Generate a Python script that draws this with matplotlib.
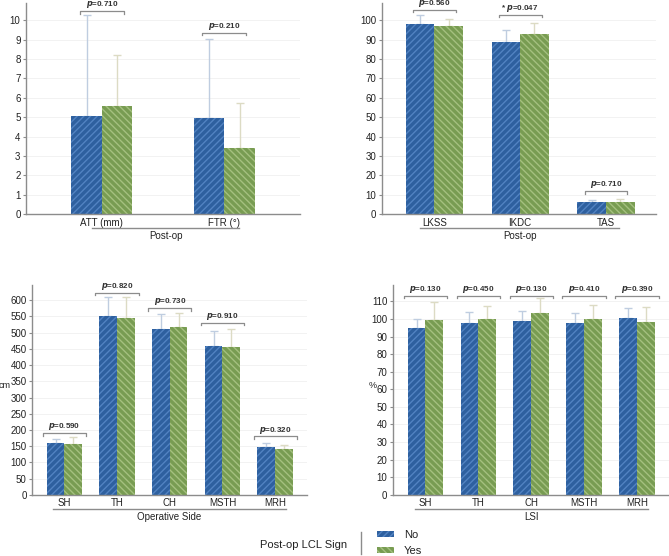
import matplotlib.pyplot as plt
from matplotlib.patches import Rectangle
from matplotlib.lines import Line2D
import numpy as np

plt.rcParams['font.family'] = ['Liberation Sans', 'DejaVu Sans']
plt.rcParams['hatch.linewidth'] = 1.0

# данные: средние и верхняя граница ошибки (No / Yes)
tl_cats = ['ATT (mm)', 'FTR (°)']
tl_no = [5.04, 4.97]
tl_yes = [5.59, 3.42]
tl_no_top = [10.27, 9.04]
tl_yes_top = [8.21, 5.71]
tl_p = ['0.710', '0.210']
tl_p_y = [10.46, 9.35]

tr_cats = ['LKSS', 'IKDC', 'TAS']
tr_no = [98.1, 88.6, 6.0]
tr_yes = [97.1, 93.1, 6.2]
tr_no_top = [102.9, 95.0, 7.2]
tr_yes_top = [100.7, 98.6, 7.7]
tr_p = ['0.560', '0.047', '0.710']
tr_star = ['', '* ', '']
tr_p_y = [105.3, 102.9, 11.9]

bl_cats = ['SH', 'TH', 'CH', 'MSTH', 'MRH']
bl_no = [159.6, 552.7, 511.5, 458, 147]
bl_yes = [157, 546.5, 516.7, 456, 142]
bl_no_top = [172, 609, 559, 506, 159.5]
bl_yes_top = [178, 610, 561, 511.5, 153]
bl_p = ['0.590', '0.820', '0.730', '0.910', '0.320']
bl_p_y = [190, 623, 576, 530, 180]

br_cats = ['SH', 'TH', 'CH', 'MSTH', 'MRH']
br_no = [94.9, 97.7, 98.9, 97.5, 100.6]
br_yes = [99.6, 99.8, 103.2, 100, 98.3]
br_no_top = [100, 104, 104.3, 103.6, 106.2]
br_yes_top = [109.4, 107.4, 111.9, 107.9, 106.6]
br_p = ['0.130', '0.450', '0.130', '0.410', '0.390']
br_p_y = [113.2] * 5

blue = '#2E609F'
blue_h = '#5283C2'
green = '#789C52'
green_h = '#A4C07F'
err_blue = '#BFCDE0'
err_green = '#DCDBC4'
grey = '#8C8C8C'

fig = plt.figure(figsize=(6.69, 5.56), dpi=100)


def panel(rect, cats, no, yes, no_top, yes_top, pv, py, stars, ylim, yticks,
          width, xlim, bhw, grp, grp_span, ylabel=None, ylab_x=None):
    ax = fig.add_axes(rect)
    x = np.arange(len(cats))
    ax.bar(x - width / 2, no, width, color=blue, edgecolor=blue_h, hatch='/////', linewidth=0, zorder=2)
    ax.bar(x + width / 2, yes, width, color=green, edgecolor=green_h, hatch='\\\\\\\\\\', linewidth=0, zorder=2)
    ax.errorbar(x - width / 2, no, yerr=[np.zeros(len(x)), np.array(no_top) - np.array(no)],
                fmt='none', ecolor=err_blue, elinewidth=1, capsize=3, capthick=1, zorder=1)
    ax.errorbar(x + width / 2, yes, yerr=[np.zeros(len(x)), np.array(yes_top) - np.array(yes)],
                fmt='none', ecolor=err_green, elinewidth=1, capsize=3, capthick=1, zorder=1)
    tk = ylim[1] * 0.012
    for i in range(len(x)):
        ax.plot([x[i] - bhw, x[i] - bhw, x[i] + bhw, x[i] + bhw],
                [py[i] - tk, py[i], py[i], py[i] - tk], color=grey, lw=0.9, clip_on=False)
        ax.annotate(stars[i] + r'$\mathbfit{p}$=' + pv[i], (x[i], py[i]), xytext=(0, 0.6),
                    textcoords='offset points', ha='center', va='bottom',
                    fontsize=5.8, fontweight='bold', color='#333333', annotation_clip=False)
    ax.set_xlim(*xlim)
    ax.set_ylim(*ylim)
    ax.set_yticks(yticks)
    ax.set_xticks(x)
    ax.set_xticklabels(cats)
    ax.tick_params(axis='x', length=0, labelsize=7, pad=2.5, colors='#222222')
    ax.tick_params(axis='y', length=2.5, labelsize=7, pad=1.5, color=grey, labelcolor='#222222')
    for s in ['top', 'right']:
        ax.spines[s].set_visible(False)
    for s in ['left', 'bottom']:
        ax.spines[s].set_color(grey)
        ax.spines[s].set_linewidth(1.0)
    ax.grid(axis='y', color='#F0F0F0', lw=0.6, zorder=0)
    ax.set_axisbelow(True)
    tr = ax.get_xaxis_transform()
    ax.plot([x[0] + grp_span[0], x[-1] + grp_span[1]], [-0.068, -0.068], color=grey,
            lw=1, transform=tr, clip_on=False)
    ax.text((x[0] + grp_span[0] + x[-1] + grp_span[1]) / 2, -0.105, grp, transform=tr,
            ha='center', va='center', fontsize=7, color='#222222')
    if ylabel:
        ax.set_ylabel(ylabel, rotation=0, fontsize=6.5, color='#222222')
        ax.yaxis.set_label_coords(ylab_x, 0.5)
    return ax


panel([0.039, 0.615, 0.41, 0.38], tl_cats, tl_no, tl_yes, tl_no_top, tl_yes_top,
      tl_p, tl_p_y, ['', ''], (0, 10.9), range(0, 11), 0.25, (-0.618, 1.62), 0.18,
      'Post-op', (-0.08, 0.12))

panel([0.571, 0.615, 0.41, 0.38], tr_cats, tr_no, tr_yes, tr_no_top, tr_yes_top,
      tr_p, tr_p_y, tr_star, (0, 109), range(0, 101, 10), 0.333, (-0.61, 2.586), 0.25,
      'Post-op', (-0.17, 0.155))

panel([0.048, 0.11, 0.411, 0.378], bl_cats, bl_no, bl_yes, bl_no_top, bl_yes_top,
      bl_p, bl_p_y, [''] * 5, (0, 648), range(0, 601, 50), 0.336, (-0.613, 4.606), 0.41,
      'Operative Side', (-0.21, 0.2), ylabel='cm', ylab_x=-0.1)

panel([0.5875, 0.11, 0.4125, 0.378], br_cats, br_no, br_yes, br_no_top, br_yes_top,
      br_p, br_p_y, [''] * 5, (0, 119.5), range(0, 111, 10), 0.336, (-0.613, 4.606), 0.41,
      'LSI', (-0.2, 0.21), ylabel='%', ylab_x=-0.074)

# легенда
W, H = 669, 556
fig.text(304 / W, 1 - 545 / H, 'Post-op LCL Sign', ha='center', va='center', fontsize=8, color='#222222')
fig.add_artist(Line2D([361 / W, 361 / W], [1 - 532 / H, 1 - 554 / H], color=grey, lw=1))
fig.add_artist(Rectangle((377 / W, 1 - 537 / H), 17 / W, 6 / H, transform=fig.transFigure,
                         facecolor=blue, edgecolor=blue_h, hatch='/////', linewidth=0))
fig.add_artist(Rectangle((377 / W, 1 - 553 / H), 17 / W, 6 / H, transform=fig.transFigure,
                         facecolor=green, edgecolor=green_h, hatch='\\\\\\\\\\', linewidth=0))
fig.text(404 / W, 1 - 535 / H, 'No', ha='left', va='center', fontsize=8, color='#222222')
fig.text(404 / W, 1 - 551 / H, 'Yes', ha='left', va='center', fontsize=8, color='#222222')

plt.savefig('out.png', dpi=100)
